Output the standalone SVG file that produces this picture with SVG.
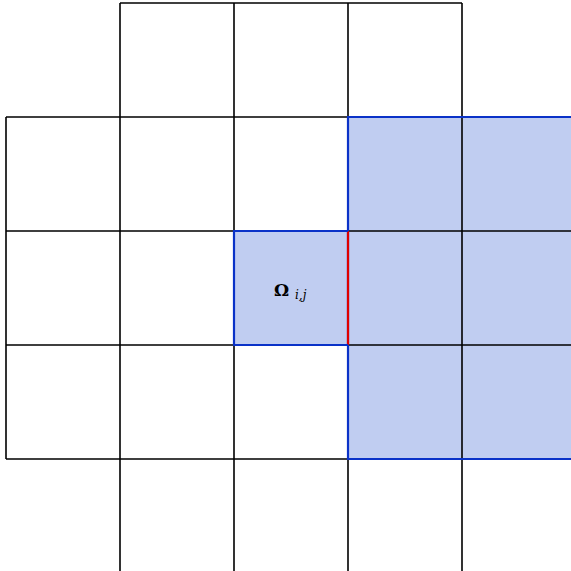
<svg xmlns="http://www.w3.org/2000/svg" width="571" height="571" viewBox="0 0 571 571">
<style>
.g{fill:none;stroke:#000;stroke-width:1.6}
.b{fill:none;stroke:#0a32c8;stroke-width:2.2}
.r{fill:none;stroke:#e00000;stroke-width:2.2}
.f{fill:#c0cdf1;stroke:none}
.t{font-family:"DejaVu Serif","Liberation Serif",serif;fill:#000}
</style>
<rect width="571" height="571" fill="#fff"/>
<g id="fills">
<rect class="f" x="348" y="117" width="230" height="342"/>
<rect class="f" x="234" y="231" width="114" height="114"/>
</g>
<g id="grid">
<path class="g" d="M120 3H462M6 117H348M6 231H234M6 345H234M6 459H348M348 231H571M348 345H571"/>
<path class="g" d="M6 117V459M120 3V571M234 3V231M234 345V571M348 3V117M348 459V571M462 3V571"/>
</g>
<g id="region">
<path class="b" d="M571 117H348V459H571"/>
</g>
<g id="cell">
<path class="r" d="M348 231V345"/>
<path class="b" d="M348 231H234V345H348"/>
<text class="t" x="274" y="296" font-size="17" font-weight="bold">Ω</text>
<text class="t" x="295" y="299" font-size="12" font-style="italic">i,j</text>
</g>
</svg>
